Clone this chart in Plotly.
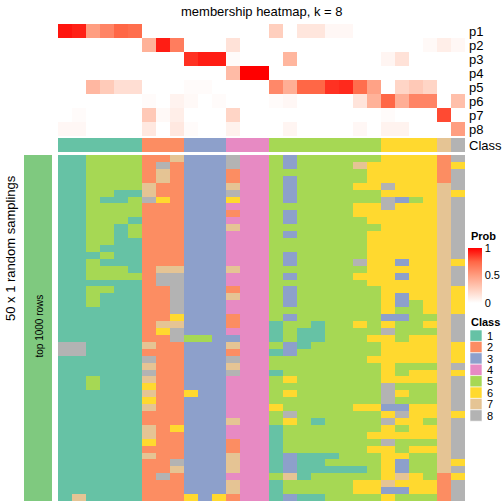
import plotly.graph_objects as go

W = H = 504
FONT = "Liberation Sans"

# ---------------- data ----------------
col_class = [1, 1, 1, 1, 1, 1, 2, 2, 2, 3, 3, 3, 4, 4, 4,
             5, 5, 5, 5, 5, 5, 5, 5, 6, 6, 6, 6, 7, 8]

prob_labels = ["p1", "p2", "p3", "p4", "p5", "p6", "p7", "p8"]
p1 = [0.95, 0.92, 0.50, 0.62, 0.75, 0.72, 0, 0, 0, 0, 0, 0, 0, 0, 0,
      0.25, 0, 0.13, 0.13, 0.04, 0.04, 0, 0, 0, 0, 0, 0, 0, 0]
p2 = [0, 0, 0, 0, 0, 0, 0.40, 0.93, 0.65, 0, 0, 0, 0.15, 0, 0,
      0, 0, 0, 0, 0, 0, 0, 0, 0, 0, 0, 0.03, 0.09, 0.04]
p3 = [0, 0, 0, 0, 0, 0, 0, 0, 0, 0.88, 0.93, 0.93, 0.02, 0, 0,
      0, 0.38, 0, 0, 0, 0, 0, 0, 0.05, 0.15, 0, 0, 0, 0]
p4 = [0, 0, 0, 0, 0, 0, 0, 0, 0, 0, 0, 0, 0.35, 1.0, 1.0,
      0, 0, 0, 0, 0, 0, 0, 0, 0, 0, 0, 0, 0, 0]
p5 = [0, 0, 0.37, 0.27, 0.17, 0.17, 0, 0, 0, 0.02, 0.02, 0, 0, 0, 0,
      0.60, 0.42, 0.75, 0.75, 0.88, 0.90, 0.72, 0.48, 0, 0.22, 0.28, 0.22, 0, 0]
p6 = [0, 0, 0, 0, 0, 0, 0.02, 0, 0.06, 0.03, 0, 0.02, 0, 0, 0,
      0.02, 0.04, 0, 0, 0, 0, 0.14, 0.40, 0.75, 0.42, 0.62, 0.62, 0, 0.33]
p7 = [0, 0.02, 0, 0, 0, 0, 0.28, 0.03, 0.09, 0, 0, 0, 0.22, 0, 0,
      0, 0, 0, 0, 0, 0, 0, 0, 0.02, 0, 0, 0, 0.82, 0]
p8 = [0.04, 0.04, 0, 0, 0, 0, 0.12, 0, 0.12, 0.02, 0, 0, 0.07, 0, 0,
      0, 0.05, 0, 0, 0, 0, 0.04, 0, 0.06, 0.06, 0, 0, 0, 0.50]

# class assigned in each of the 50 random samplings (rows) for each sample (cols)
sampling_rows = [
    "11 5555 227 333 844 53555555 6666 2 8",
    "11 5555 282 333 844 53555576 6666 2 6",
    "11 5555 272 333 244 55555556 6666 2 8",
    "11 5555 272 333 244 53555556 6666 2 8",
    "11 5555 722 333 744 53555566 8666 7 8",
    "11 5511 722 333 844 53555555 6666 7 6",
    "11 5115 862 333 644 53555555 8356 7 8",
    "11 5555 222 333 444 55555566 8666 7 8",
    "11 5555 222 333 244 53555566 6666 7 8",
    "11 5551 222 333 444 53555556 6666 7 8",
    "11 5515 222 333 744 55555555 6666 7 8",
    "11 5515 222 333 444 53555556 6666 7 8",
    "11 5511 222 333 444 55555556 6666 7 8",
    "11 5111 222 333 444 55555556 6666 7 8",
    "11 1511 222 333 444 53555556 6666 7 8",
    "11 5111 222 333 444 53555586 6366 7 6",
    "11 5551 277 333 744 55555556 6666 7 8",
    "11 5555 288 333 444 53555566 6366 7 8",
    "11 1111 288 333 444 55555556 6666 7 8",
    "11 5511 228 333 244 53555555 6666 7 6",
    "11 5111 228 333 744 53555555 6366 7 6",
    "11 5111 228 333 444 53555555 6356 7 6",
    "11 1111 228 333 444 55555555 6556 7 6",
    "11 1111 226 333 244 53555555 3355 7 8",
    "11 1111 277 333 244 15515565 6556 7 8",
    "11 1111 268 333 444 15115555 8555 7 8",
    "11 1111 228 553 344 15115556 6566 7 8",
    "88 1111 722 333 744 53155555 6666 7 6",
    "88 1111 222 333 244 13555555 6666 7 6",
    "11 1111 822 333 844 55555556 6666 7 6",
    "11 1111 722 333 744 55555555 6555 7 8",
    "11 1111 822 333 844 15555555 6566 7 6",
    "11 5111 722 333 444 56555555 6666 7 8",
    "11 5111 622 333 444 55555555 8555 7 8",
    "11 1111 722 633 444 56555555 8655 7 8",
    "11 1111 622 333 444 55555555 8555 7 8",
    "11 1111 722 333 444 65555566 3366 7 8",
    "11 1111 222 333 444 58555555 6866 7 6",
    "11 1111 222 333 744 56515555 8665 7 8",
    "11 1111 726 333 444 15555555 6566 7 8",
    "11 1111 722 333 444 15555556 6666 7 8",
    "11 1111 622 333 244 15555555 8555 7 8",
    "11 1111 222 333 244 15555556 6566 7 8",
    "11 1111 722 333 744 13111555 6655 7 8",
    "11 1111 228 333 744 13115555 6355 7 6",
    "11 1111 227 333 744 13111115 6355 7 8",
    "11 1111 282 333 444 57155555 6765 2 6",
    "11 1111 222 333 744 15555566 7666 2 8",
    "11 1111 222 333 744 15555566 3366 2 8",
    "17 1111 222 636 244 13115555 6555 2 8",
]

class_names = ["1", "2", "3", "4", "5", "6", "7", "8"]
class_colors = ["#66C2A5", "#FC8D62", "#8DA0CB", "#E78AC3",
                "#A6D854", "#FFD92F", "#E5C494", "#B3B3B3"]
prob_ticks = [0, 0.5, 1]

# ---------------- build ----------------
probs = [p1, p2, p3, p4, p5, p6, p7, p8]
samplings = [[int(ch) for ch in r.replace(" ", "")] for r in sampling_rows]
ncol = len(col_class)
xs = list(range(ncol))

def px_y(p):  # pixel (from top) -> paper
    return 1 - p / H

def px_x(p):
    return p / W

disc_cs = []
n = len(class_colors)
for i, c in enumerate(class_colors):
    disc_cs.append([i / n, c])
    disc_cs.append([(i + 1) / n, c])

prob_cs = [[0, "#FFFFFF"], [0.25, "rgb(255,207,190)"], [0.5, "rgb(255,158,129)"],
           [0.75, "rgb(255,103,70)"], [1, "#FF0000"]]

fig = go.Figure()

fig.add_trace(go.Heatmap(
    z=probs, x=xs, y=list(range(len(probs))), xaxis="x", yaxis="y",
    colorscale=prob_cs, zmin=0, zmax=1, hoverinfo="skip",
    colorbar=dict(x=px_x(468), xanchor="left", xpad=0, ypad=0,
                  y=px_y(275.5), yanchor="middle", lenmode="pixels", len=55,
                  thickness=14, outlinewidth=0, ticks="",
                  tickvals=prob_ticks, ticktext=[str(t) for t in prob_ticks],
                  tickfont=dict(family=FONT, size=11, color="#000"))
))

fig.add_trace(go.Heatmap(
    z=[col_class], x=xs, y=[0], xaxis="x", yaxis="y2",
    colorscale=disc_cs, zmin=0.5, zmax=n + 0.5, showscale=False, hoverinfo="skip"
))

fig.add_trace(go.Heatmap(
    z=samplings, x=xs, y=list(range(len(samplings))), xaxis="x", yaxis="y3",
    colorscale=disc_cs, zmin=0.5, zmax=n + 0.5, showscale=False, hoverinfo="skip"
))

hidden = dict(visible=False, showgrid=False, zeroline=False)
fig.update_layout(
    width=W, height=H, margin=dict(l=0, r=0, t=0, b=0),
    paper_bgcolor="white", plot_bgcolor="white", showlegend=False,
    xaxis=dict(domain=[px_x(58), px_x(465)], range=[-0.5, ncol - 0.5], anchor="y3", **hidden),
    yaxis=dict(domain=[px_y(136), px_y(24)], range=[len(probs) - 0.5, -0.5], anchor="x", **hidden),
    yaxis2=dict(domain=[px_y(152), px_y(138)], range=[0.5, -0.5], anchor="x", **hidden),
    yaxis3=dict(domain=[px_y(501), px_y(155)], range=[len(samplings) - 0.5, -0.5], anchor="x", **hidden),
)

ann = []
ann.append(dict(text="membership heatmap, k = 8", x=px_x(262), y=px_y(11),
                xref="paper", yref="paper", showarrow=False, xanchor="center", yanchor="middle",
                font=dict(family=FONT, size=13, color="#000")))
for i, lab in enumerate(prob_labels):
    ann.append(dict(text=lab, x=px_x(467), y=i, xref="paper", yref="y", showarrow=False,
                    xanchor="left", yanchor="middle", font=dict(family=FONT, size=13, color="#000")))
ann.append(dict(text="Class", x=px_x(467), y=0, xref="paper", yref="y2", showarrow=False,
                xanchor="left", yanchor="middle", font=dict(family=FONT, size=13, color="#000")))
ann.append(dict(text="50 x 1 random samplings", x=px_x(10), y=px_y(248), xref="paper", yref="paper",
                showarrow=False, textangle=-90, xanchor="center", yanchor="middle",
                font=dict(family=FONT, size=13, color="#000")))
ann.append(dict(text="top 1000 rows", x=px_x(38.5), y=px_y(326), xref="paper", yref="paper",
                showarrow=False, textangle=-90, xanchor="center", yanchor="middle",
                font=dict(family=FONT, size=10, color="#000")))
ann.append(dict(text="<b>Prob</b>", x=px_x(469), y=px_y(236), xref="paper", yref="paper",
                showarrow=False, xanchor="left", yanchor="middle",
                font=dict(family=FONT, size=11, color="#000")))
ann.append(dict(text="<b>Class</b>", x=px_x(469), y=px_y(322), xref="paper", yref="paper",
                showarrow=False, xanchor="left", yanchor="middle",
                font=dict(family=FONT, size=11, color="#000")))

shapes = []
shapes.append(dict(type="rect", xref="paper", yref="paper", x0=px_x(24), x1=px_x(52),
                   y0=px_y(501), y1=px_y(155), fillcolor="#7FC97F", line=dict(width=0), layer="below"))
sq_top, sq_h = 330, 11.4
for i, (nm, c) in enumerate(zip(class_names, class_colors)):
    t = sq_top + i * sq_h
    shapes.append(dict(type="rect", xref="paper", yref="paper", x0=px_x(470), x1=px_x(482),
                       y0=px_y(t + sq_h), y1=px_y(t), fillcolor=c, line=dict(width=0.6, color="white")))
    ann.append(dict(text=nm, x=px_x(485), y=px_y(t + sq_h / 2), xref="paper", yref="paper",
                    showarrow=False, xanchor="left", yanchor="middle",
                    font=dict(family=FONT, size=11, color="#000")))

fig.update_layout(annotations=ann, shapes=shapes)
fig.write_html("out.html", config={"displayModeBar": False},
               post_script="document.body.style.margin='0';document.body.style.overflow='hidden';")
